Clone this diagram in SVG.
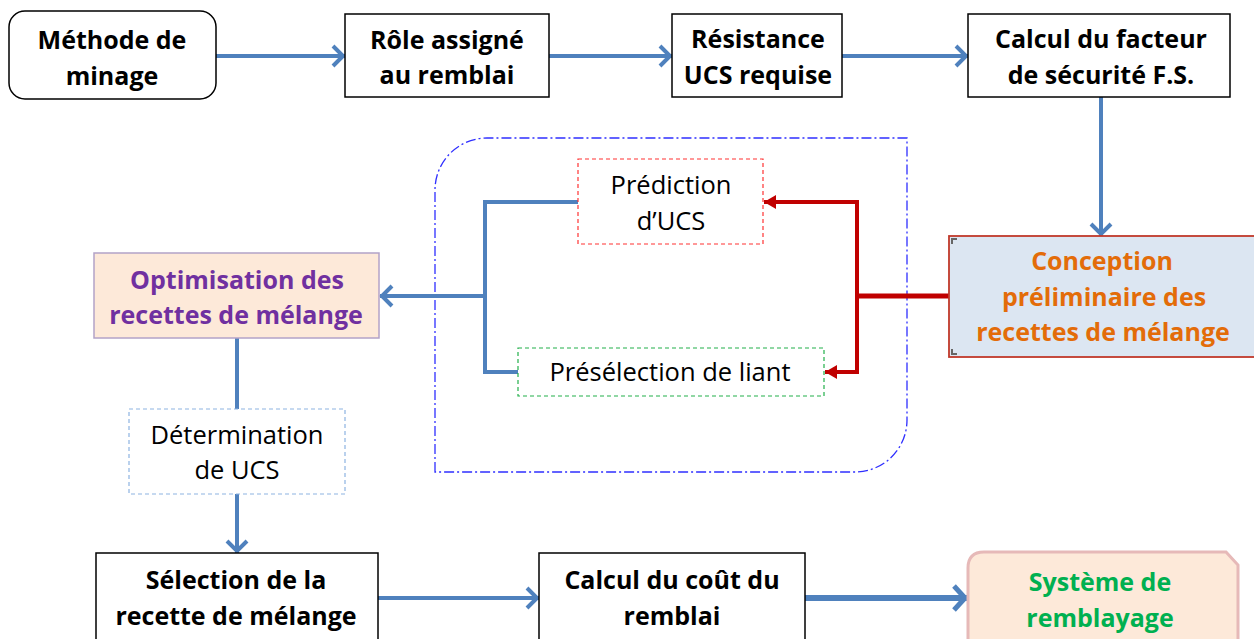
<svg xmlns="http://www.w3.org/2000/svg" width="1254" height="639" viewBox="0 0 1254 639">
  <defs>
    <style>
      .box { fill: #ffffff; stroke: #000000; stroke-width: 1.5; }
      .t { font-family: "Open Sans", "Liberation Sans", sans-serif; text-anchor: middle; }
      .b { font-weight: bold; font-size: 25px; fill: #000000; }
      .r { font-size: 25.5px; fill: #000000; }
      .blue { fill: none; stroke: #4f81bd; stroke-width: 4; }
      .red { fill: none; stroke: #c00000; stroke-width: 4; }
    </style>
    <marker id="chev" markerUnits="userSpaceOnUse" viewBox="-16 -14 20 28" markerWidth="20" markerHeight="28" refX="0" refY="0" orient="auto">
      <path d="M-12,-10 L-2,0 L-12,10" fill="none" stroke="#4f81bd" stroke-width="4"/>
    </marker>
    <marker id="chevBig" markerUnits="userSpaceOnUse" viewBox="-18 -16 22 32" markerWidth="22" markerHeight="32" refX="0" refY="0" orient="auto">
      <path d="M-13,-12 L-2,0 L-13,12" fill="none" stroke="#4f81bd" stroke-width="5"/>
    </marker>
    <marker id="tri" markerUnits="userSpaceOnUse" viewBox="-14 -8 14 16" markerWidth="14" markerHeight="16" refX="0" refY="0" orient="auto">
      <path d="M0,0 L-12,-7 L-12,7 Z" fill="#c00000"/>
    </marker>
  </defs>

  <rect width="1254" height="639" fill="#ffffff"/>

  <!-- dash-dot frame around the two preliminary steps -->
  <path d="M435,472 L435,190 A52,52 0 0 1 487,138 L907,138 L907,420 A52,52 0 0 1 855,472 Z" fill="none" stroke="#2f2fff" stroke-width="1.3" stroke-dasharray="10 3 2 3"/>

  <g id="connectors">
    <!-- top row -->
    <line class="blue" x1="216" y1="56" x2="345" y2="56" marker-end="url(#chev)"/>
    <line class="blue" x1="549" y1="56" x2="672" y2="56" marker-end="url(#chev)"/>
    <line class="blue" x1="842" y1="56" x2="968" y2="56" marker-end="url(#chev)"/>
    <line class="blue" x1="1101" y1="97" x2="1101" y2="236" marker-end="url(#chev)"/>
    <!-- red split from preliminary design -->
    <line x1="949" y1="296" x2="857" y2="296" stroke="#c00000" stroke-width="5"/>
    <path class="red" d="M857,296 L857,202 L764,202" marker-end="url(#tri)"/>
    <path class="red" d="M857,296 L857,372 L825,372" marker-end="url(#tri)"/>
    <!-- blue merge into optimisation -->
    <path class="blue" d="M578,202 L485,202 L485,372 L518,372"/>
    <line class="blue" x1="485" y1="296" x2="380" y2="296" marker-end="url(#chev)"/>
    <!-- left column -->
    <line class="blue" x1="237" y1="338" x2="237" y2="409"/>
    <line class="blue" x1="237" y1="494" x2="237" y2="553" marker-end="url(#chev)"/>
    <!-- bottom row -->
    <line class="blue" x1="378" y1="598" x2="539" y2="598" marker-end="url(#chev)"/>
    <line x1="805" y1="598" x2="967" y2="598" fill="none" stroke="#4f81bd" stroke-width="6" marker-end="url(#chevBig)"/>
  </g>

  <g id="methode">
    <rect class="box" x="9" y="11" width="207" height="88" rx="16"/>
    <text class="t b" x="112" y="49">Méthode de</text>
    <text class="t b" x="112" y="85">minage</text>
  </g>

  <g id="role">
    <rect class="box" x="345" y="14" width="204" height="83"/>
    <text class="t b" x="447" y="49">Rôle assigné</text>
    <text class="t b" x="447" y="84">au remblai</text>
  </g>

  <g id="resistance">
    <rect class="box" x="672" y="14" width="170" height="83"/>
    <text class="t b" x="758" y="48">Résistance</text>
    <text class="t b" x="758" y="84">UCS requise</text>
  </g>

  <g id="facteur">
    <rect class="box" x="968" y="14" width="262" height="83"/>
    <text class="t b" x="1101" y="48">Calcul du facteur</text>
    <text class="t b" x="1101" y="84">de sécurité F.S.</text>
  </g>

  <g id="conception">
    <rect x="949" y="236" width="310" height="121" fill="#dce6f2" stroke="#c0392b" stroke-width="1.8"/>
    <path d="M952,244 L952,239 L957,239 M952,349 L952,354 L957,354" fill="none" stroke="#666666" stroke-width="2"/>
    <text class="t b" x="1102" y="270" style="fill:#e36c09">Conception</text>
    <text class="t b" x="1104" y="306" style="fill:#e36c09">préliminaire des</text>
    <text class="t b" x="1103" y="341" style="fill:#e36c09">recettes de mélange</text>
  </g>

  <g id="prediction">
    <rect x="578" y="159" width="185" height="85" fill="#ffffff" stroke="#ff3333" stroke-width="1.2" stroke-dasharray="4 3"/>
    <text class="t r" x="671" y="194">Prédiction</text>
    <text class="t r" x="671" y="230">d’UCS</text>
  </g>

  <g id="preselection">
    <rect x="518" y="348" width="306" height="48" fill="#ffffff" stroke="#22b04a" stroke-width="1.2" stroke-dasharray="4 3"/>
    <text class="t r" x="670" y="381">Présélection de liant</text>
  </g>

  <g id="optimisation">
    <rect x="94" y="253" width="285" height="85" fill="#fde9d9" stroke="#b3a2c7" stroke-width="1.5"/>
    <text class="t b" x="237" y="289" style="fill:#7030a0">Optimisation des</text>
    <text class="t b" x="236" y="324" style="fill:#7030a0">recettes de mélange</text>
  </g>

  <g id="determination">
    <rect x="129" y="409" width="216" height="85" fill="#ffffff" stroke="#8db3e2" stroke-width="1.2" stroke-dasharray="4 3"/>
    <text class="t r" x="237" y="444">Détermination</text>
    <text class="t r" x="237" y="479">de UCS</text>
  </g>

  <g id="selection">
    <rect class="box" x="96" y="553" width="282" height="92"/>
    <text class="t b" x="236" y="589">Sélection de la</text>
    <text class="t b" x="236" y="625">recette de mélange</text>
  </g>

  <g id="cout">
    <rect class="box" x="539" y="553" width="266" height="92"/>
    <text class="t b" x="672" y="589">Calcul du coût du</text>
    <text class="t b" x="672" y="625">remblai</text>
  </g>

  <g id="systeme">
    <path d="M968,645 L968,568 Q968,552 984,552 L1226,552 L1238,565 L1238,645" fill="#fde9d9" stroke="#e6b9b8" stroke-width="3"/>
    <text class="t b" x="1100" y="591" style="fill:#00b050">Système de</text>
    <text class="t b" x="1100" y="627" style="fill:#00b050">remblayage</text>
  </g>
</svg>
